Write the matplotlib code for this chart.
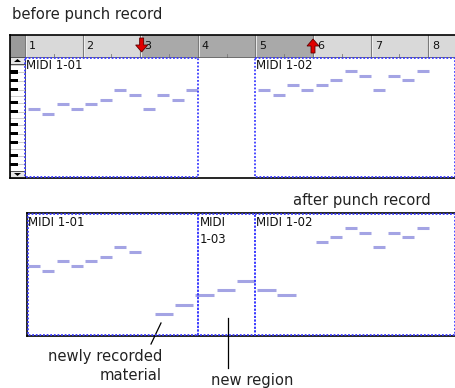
import matplotlib
matplotlib.use("Agg")
import matplotlib.pyplot as plt
from matplotlib.patches import Rectangle, Polygon

# ---------------- data ----------------
bar_numbers = [1, 2, 3, 4, 5, 6, 7, 8]

# original MIDI 1-01 notes (start beat from bar 1, pitch step)
r1_starts = [0.2, 1.2, 2.2, 3.2, 4.2, 5.2, 6.2, 7.2, 8.2, 9.2, 10.2, 11.2]
r1_pitch = [1, 0, 2, 1, 2, 3, 5, 4, 1, 4, 3, 5]
# original MIDI 1-02 notes
r2_starts = [16.2, 17.2, 18.2, 19.2, 20.2, 21.2, 22.2, 23.2, 24.2, 25.2, 26.2, 27.2]
r2_pitch = [5, 4, 6, 5, 6, 7, 9, 8, 5, 8, 7, 9]
note_len = 0.83

# newly recorded notes
new_starts = [9.0, 10.4, 11.8, 13.3, 14.7, 16.1, 17.5]
new_pitch = [-9, -7, -5, -4, -2, -4, -5]
new_len = 1.3

punch_in = 8.1
punch_out = 20.0

# region extents in beats
region1 = (0.0, 12.0)
region3 = (12.0, 16.0)
region2 = (16.0, 30.0)

# ---------------- layout ----------------
W, H = 455, 388
X0 = 25.0          # x of bar 1
BEAT = 14.4        # px per beat
STEP = 4.8         # px per pitch step
TOP_BASE = 114.0
BOT_BASE = 271.0

def bx(b):
    return X0 + b * BEAT

fig = plt.figure(figsize=(W / 100, H / 100), dpi=100)
ax = fig.add_axes([0, 0, 1, 1])
ax.set_xlim(0, W)
ax.set_ylim(H, 0)
ax.axis("off")

NOTE_C = "#a4a4e4"
BLUE = "#3a3aff"
FONT = "DejaVu Sans"
TFS = 10.6   # annotation font size
LFS = 8.5    # region label font size

# ---- titles ----
ax.text(12, 15, "before punch record", fontsize=TFS, family=FONT, va="center", ha="left", color="#222222")
ax.text(293, 200, "after punch record", fontsize=TFS, family=FONT, va="center", ha="left", color="#222222")

# ================= TOP PANEL =================
top_y0, ruler_y1, top_y1 = 35, 57, 178
# ruler background
ax.add_patch(Rectangle((10, top_y0), W - 10, ruler_y1 - top_y0, facecolor="#d9d9d9", edgecolor="none"))
ax.add_patch(Rectangle((bx(punch_in), top_y0), bx(punch_out) - bx(punch_in), ruler_y1 - top_y0,
                       facecolor="#a9a9a9", edgecolor="none"))
ax.add_patch(Rectangle((10, top_y0), X0 - 10, ruler_y1 - top_y0, facecolor="#9a9a9a", edgecolor="none"))
for i, n in enumerate(bar_numbers):
    x = bx(i * 4)
    ax.plot([x, x], [top_y0, ruler_y1], color="#7a7a7a", lw=0.8)
    ax.plot([x + 1, x + 1], [top_y0, ruler_y1], color="#f4f4f4", lw=0.6)
    ax.text(x + 4, 46, str(n), fontsize=8, family=FONT, va="center", ha="left", color="#111111")
    xm = bx(i * 4 + 2)
    ax.plot([xm, xm], [ruler_y1 - 3, ruler_y1], color="#7a7a7a", lw=0.6)
ax.plot([10, W], [ruler_y1, ruler_y1], color="#555555", lw=0.6)

# punch arrows
def arrow(xc, down):
    s = 1 if down else -1
    yb = 38 if down else 53
    pts = [(xc - 2, yb), (xc + 2, yb), (xc + 2, yb + s * 7), (xc + 6, yb + s * 7),
           (xc, yb + s * 14), (xc - 6, yb + s * 7), (xc - 2, yb + s * 7)]
    ax.add_patch(Polygon(pts, closed=True, facecolor="#e00000", edgecolor="#600000", lw=0.6, zorder=5))

arrow(bx(punch_in), True)
arrow(bx(punch_out), False)

# keyboard
ax.add_patch(Rectangle((10, ruler_y1), X0 - 10, top_y1 - ruler_y1, facecolor="white", edgecolor="none"))
for k in range(-1, 30):
    semi = k % 12
    y = 171 - (k + 0.5) * 4.4
    if y < 64 or y > 170:
        continue
    if semi in (1, 3, 6, 8, 10):
        ax.add_patch(Rectangle((10, y - 1.6), 8, 3.2, facecolor="black", edgecolor="none"))
        ax.plot([18, X0], [y, y], color="#bbbbbb", lw=0.5)
    elif semi in (4, 11):
        ax.plot([10, X0], [y - 2.2, y - 2.2], color="#bbbbbb", lw=0.5)
# scroll buttons
for yb, up in ((ruler_y1, True), (top_y1 - 7, False)):
    ax.add_patch(Rectangle((10, yb), X0 - 10, 7, facecolor="#e6e6e6", edgecolor="#333333", lw=0.6))
    if up:
        tri = [(14, yb + 5), (21, yb + 5), (17.5, yb + 2)]
    else:
        tri = [(14, yb + 2), (21, yb + 2), (17.5, yb + 5)]
    ax.add_patch(Polygon(tri, closed=True, facecolor="black", edgecolor="none"))
ax.plot([X0, X0], [ruler_y1, top_y1], color="#333333", lw=0.6)

# outer black frame lines
ax.plot([10, W], [top_y0, top_y0], color="black", lw=1.2)
ax.plot([10, 10], [top_y0, top_y1], color="black", lw=1.2)
ax.plot([10, W], [top_y1, top_y1], color="black", lw=1.2)

def region_box(b0, b1, y0, y1):
    x0, x1 = bx(b0), min(bx(b1), W - 0.5)
    ax.add_patch(Rectangle((x0, y0), x1 - x0, y1 - y0, facecolor="none", edgecolor=BLUE,
                           lw=1.3, linestyle=(0, (1, 1)), zorder=4))

region_box(region1[0], region1[1], ruler_y1 + 1, top_y1 - 1)
region_box(region2[0], region2[1], ruler_y1 + 1, top_y1 - 1)
ax.text(bx(region1[0]) + 1, ruler_y1 + 2, "MIDI 1-01", fontsize=LFS, family=FONT, va="top", ha="left", color="#111111")
ax.text(bx(region2[0]) + 1, ruler_y1 + 2, "MIDI 1-02", fontsize=LFS, family=FONT, va="top", ha="left", color="#111111")

def notes(starts, pitches, length, base):
    for s, p in zip(starts, pitches):
        y = base - p * STEP
        ax.plot([bx(s), bx(s + length)], [y, y], color=NOTE_C, lw=2.2, solid_capstyle="butt", zorder=3)

notes(r1_starts, r1_pitch, note_len, TOP_BASE)
notes(r2_starts, r2_pitch, note_len, TOP_BASE)

# ================= BOTTOM PANEL =================
bot_y0, bot_y1 = 213, 336
xl = 27
ax.plot([xl, W], [bot_y0, bot_y0], color="black", lw=1.2)
ax.plot([xl, W], [bot_y1, bot_y1], color="black", lw=1.2)
ax.plot([xl, xl], [bot_y0, bot_y1], color="black", lw=1.2)

def region_box2(b0, b1):
    x0, x1 = max(bx(b0), xl + 1), min(bx(b1), W - 0.5)
    ax.add_patch(Rectangle((x0, bot_y0 + 1.2), x1 - x0, bot_y1 - bot_y0 - 2.4, facecolor="none", edgecolor=BLUE,
                           lw=1.3, linestyle=(0, (1, 1)), zorder=4))

region_box2(*region1)
region_box2(*region3)
region_box2(*region2)
ax.text(xl + 1, bot_y0 + 3, "MIDI 1-01", fontsize=LFS, family=FONT, va="top", ha="left", color="#111111")
ax.text(bx(region3[0]) + 2, bot_y0 + 3, "MIDI\n1-03", fontsize=LFS, family=FONT, va="top", ha="left",
        color="#111111", linespacing=1.4)
ax.text(bx(region2[0]) + 1, bot_y0 + 3, "MIDI 1-02", fontsize=LFS, family=FONT, va="top", ha="left", color="#111111")

notes(r1_starts[:8], r1_pitch[:8], note_len, BOT_BASE)
notes(r2_starts[4:], r2_pitch[4:], note_len, BOT_BASE)
notes(new_starts, new_pitch, new_len, BOT_BASE)

# annotations
ax.plot([161, 151], [323, 344], color="black", lw=0.9)
ax.text(162, 357, "newly recorded", fontsize=TFS, family=FONT, va="center", ha="right", color="#222222")
ax.text(162, 376, "material", fontsize=TFS, family=FONT, va="center", ha="right", color="#222222")
ax.plot([228, 228], [318, 368], color="black", lw=0.9)
ax.text(252, 380, "new region", fontsize=TFS, family=FONT, va="center", ha="center", color="#222222")

fig.savefig("out.png", dpi=100)
